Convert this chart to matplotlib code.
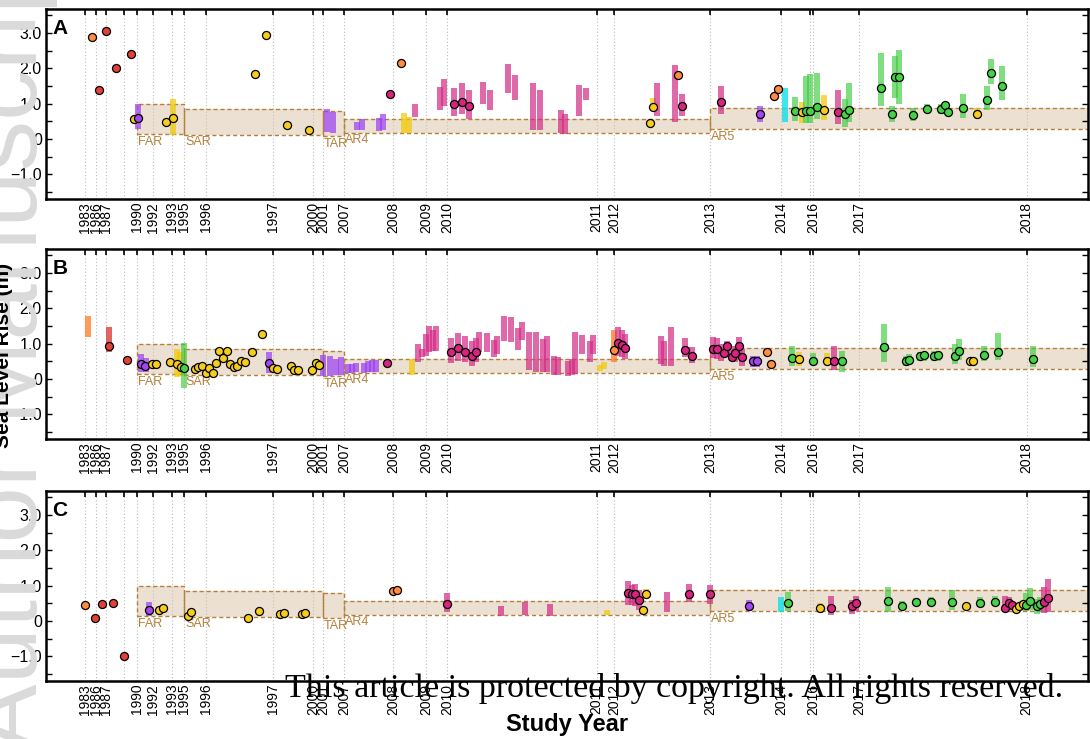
"""
Sea level rise projections by study year, three panels (A, B, C)
"""
import matplotlib
matplotlib.use('Agg')
import matplotlib.pyplot as plt
from matplotlib.patches import Rectangle

plt.rcParams['font.family'] = ['Liberation Sans', 'DejaVu Sans']

# study position along x; a tick marks the first study of each year
year_pos = [85, 95.7, 106, 123.7, 137, 152.7, 172.3, 184.3, 205.7, 273.3, 313.3, 323, 344.3,
            393.3, 426, 447.3, 596.7, 614.3, 710, 781, 809.5, 813, 859.3, 1026.7]
year_lab = ['1983', '1986', '1987', '', '1990', '1992', '1993', '1995', '1996', '1997', '2000',
            '2001', '2007', '2008', '2009', '2010', '2011', '2012', '2013', '2014', '', '2016',
            '2017', '2018']

# IPCC assessment ranges
ipcc_name = ['FAR', 'SAR', 'TAR', 'AR4', 'AR5']
ipcc_x0 = [137, 184.3, 323, 344.3, 710]
ipcc_x1 = [184.3, 323, 344.3, 710, 1088]
ipcc_lo = [0.13, 0.11, 0.07, 0.17, 0.27]
ipcc_hi = [1.0, 0.86, 0.79, 0.57, 0.87]

# ranges: (position, low, high, group)
a_bars = [
    (138, 0.28, 0.99, 'p'), (173.3, 0.12, 1.12, 'y'), (326.7, 0.19, 0.84, 'p'),
    (333.3, 0.16, 0.75, 'p'), (357.3, 0.24, 0.47, 'p'), (362, 0.25, 0.57, 'p'),
    (379, 0.23, 0.59, 'p'), (383.3, 0.25, 0.71, 'p'), (404.3, 0.18, 0.73, 'y'),
    (409, 0.18, 0.63, 'y'), (415, 0.61, 0.98, 'm'), (440, 0.82, 1.48, 'm'),
    (444, 0.93, 1.69, 'm'), (454.3, 0.65, 1.44, 'm'), (461.7, 0.70, 1.58, 'm'),
    (468.7, 0.57, 1.39, 'm'), (482.7, 0.98, 1.61, 'm'), (490, 0.81, 1.38, 'm'),
    (507.7, 1.30, 2.12, 'm'), (515, 1.10, 1.81, 'm'), (532.7, 0.25, 1.59, 'm'),
    (540, 0.24, 1.39, 'm'), (561, 0.16, 0.82, 'm'), (564.7, 0.14, 0.70, 'm'),
    (579, 0.65, 1.53, 'm'), (586, 1.10, 1.44, 'm'), (653.3, 0.79, 1.15, 'y'),
    (656.7, 0.65, 1.58, 'm'), (675, 0.47, 2.10, 'm'), (681.7, 0.64, 1.27, 'm'),
    (720.7, 0.70, 1.50, 'm'), (760, 0.49, 0.93, 'p'), (785, 0.47, 1.43, 'c'),
    (795.3, 0.52, 1.20, 'g'), (802.3, 0.44, 1.04, 'y'), (805.7, 0.45, 1.79, 'g'),
    (810, 0.45, 1.83, 'g'), (816.7, 0.56, 1.87, 'g'), (824, 0.54, 1.25, 'y'),
    (838, 0.42, 1.39, 'm'), (845.3, 0.35, 1.13, 'g'), (849, 0.49, 1.59, 'g'),
    (880.7, 0.93, 2.43, 'g'), (891.7, 0.49, 0.93, 'g'), (894.7, 1.15, 2.35, 'g'),
    (899, 0.99, 2.52, 'g'), (912.7, 0.50, 0.88, 'g'), (927.3, 0.75, 0.98, 'g'),
    (941, 0.72, 0.98, 'g'), (962.7, 0.59, 1.27, 'g'), (976.7, 0.57, 0.87, 'y'),
    (987.3, 0.82, 1.51, 'g'), (991, 1.55, 2.26, 'g'), (1001.7, 1.09, 2.06, 'g'),
]
# central estimates: (position, value, group)
a_pts = [
    (91.7, 2.88, 'o'), (98.7, 1.39, 'r'), (106, 3.06, 'r'), (116.3, 2.0, 'r'), (131, 2.40, 'r'),
    (134, 0.57, 'y'), (138, 0.59, 'p'), (166, 0.48, 'y'), (173.3, 0.58, 'y'),
    (255.3, 1.83, 'y'), (265.7, 2.93, 'y'), (287.3, 0.39, 'y'), (308.7, 0.26, 'y'),
    (390, 1.27, 'm'), (400.7, 2.16, 'o'),
    (454.3, 1.0, 'm'), (461.7, 1.05, 'm'), (468.7, 0.92, 'm'),
    (649.7, 0.44, 'y'), (653.3, 0.91, 'y'), (678.3, 1.82, 'o'), (681.7, 0.94, 'm'),
    (720.7, 1.06, 'm'), (760, 0.70, 'p'), (774, 1.21, 'o'), (777.7, 1.41, 'o'),
    (795.3, 0.79, 'g'), (802.3, 0.75, 'y'), (805.7, 0.80, 'g'), (810, 0.80, 'g'),
    (816.7, 0.91, 'g'), (824, 0.81, 'y'), (838, 0.76, 'm'), (845.3, 0.71, 'g'), (849, 0.81, 'g'),
    (880.7, 1.45, 'g'), (891.7, 0.70, 'g'), (894.7, 1.76, 'g'), (899, 1.76, 'g'),
    (912.7, 0.69, 'g'), (927.3, 0.85, 'g'), (941, 0.86, 'g'), (945, 0.95, 'g'),
    (948.3, 0.76, 'g'), (962.7, 0.89, 'g'), (976.7, 0.70, 'y'),
    (987.3, 1.11, 'g'), (991, 1.87, 'g'), (1001.7, 1.50, 'g'),
]

b_bars = [
    (88, 1.20, 1.79, 'o'), (109.3, 0.77, 1.46, 'r'), (141.3, 0.21, 0.71, 'p'),
    (145.7, 0.19, 0.59, 'p'), (177, 0.05, 0.85, 'y'), (180, 0.07, 0.75, 'y'),
    (184.3, -0.26, 1.02, 'g'), (269.3, 0.17, 0.77, 'p'), (322.7, 0.09, 0.69, 'p'),
    (330, 0.09, 0.66, 'p'), (336, 0.10, 0.57, 'p'), (341, 0.12, 0.63, 'p'),
    (348, 0.18, 0.42, 'p'), (352, 0.18, 0.42, 'p'), (356, 0.19, 0.44, 'p'),
    (364, 0.17, 0.45, 'p'), (368, 0.19, 0.50, 'p'), (372, 0.19, 0.54, 'p'),
    (376, 0.19, 0.55, 'p'), (411.7, 0.11, 0.57, 'y'), (418.3, 0.47, 0.98, 'm'),
    (422, 0.62, 0.85, 'm'), (425.7, 0.66, 1.27, 'm'), (429, 0.76, 1.49, 'm'),
    (432.7, 0.80, 1.40, 'm'), (436.3, 0.78, 1.49, 'm'), (450.7, 0.45, 1.16, 'm'),
    (457.7, 0.50, 1.29, 'm'), (465, 0.47, 1.21, 'm'), (472, 0.36, 1.08, 'm'),
    (475.7, 0.47, 1.16, 'm'), (479.3, 0.77, 1.32, 'm'), (486.7, 0.77, 1.30, 'm'),
    (493.7, 0.61, 1.09, 'm'), (497.3, 0.71, 1.21, 'm'), (504, 1.07, 1.78, 'm'),
    (511, 1.04, 1.75, 'm'), (518.3, 0.83, 1.44, 'm'), (522, 1.09, 1.61, 'm'),
    (529, 0.24, 1.34, 'm'), (536.3, 0.21, 1.32, 'm'), (543.3, 0.21, 1.13, 'm'),
    (547.3, 0.19, 1.23, 'm'), (554.3, 0.11, 0.64, 'm'), (557.7, 0.11, 0.61, 'm'),
    (568.3, 0.09, 0.52, 'm'), (571.7, 0.11, 0.57, 'm'), (575.3, 0.14, 1.34, 'm'),
    (582.3, 0.71, 1.25, 'm'), (589.7, 0.47, 1.07, 'm'), (593.3, 0.71, 1.25, 'm'),
    (600, 0.23, 0.40, 'y'), (603.7, 0.28, 0.47, 'y'), (614.3, 0.49, 1.39, 'o'),
    (618, 0.66, 1.46, 'm'), (621.7, 0.61, 1.40, 'm'), (625.3, 0.57, 1.27, 'm'),
    (660.7, 0.42, 1.21, 'm'), (664, 0.38, 1.07, 'm'), (671, 0.36, 1.46, 'm'),
    (685, 0.63, 1.15, 'm'), (692.3, 0.45, 0.90, 'm'), (713.3, 0.59, 1.18, 'm'),
    (717.3, 0.57, 1.15, 'm'), (721, 0.50, 0.98, 'm'), (727.3, 0.71, 1.07, 'm'),
    (731.7, 0.51, 0.85, 'm'), (735, 0.47, 0.94, 'm'), (738.7, 0.64, 1.18, 'm'),
    (742, 0.38, 0.85, 'm'), (753.3, 0.35, 0.66, 'p'), (756.7, 0.35, 0.66, 'p'),
    (791.7, 0.36, 0.92, 'g'), (799, 0.38, 0.76, 'y'), (813.3, 0.42, 0.73, 'g'),
    (827.3, 0.38, 0.74, 'y'), (834.3, 0.24, 0.93, 'm'), (842, 0.21, 0.80, 'g'),
    (884.3, 0.49, 1.56, 'g'), (905.7, 0.36, 0.66, 'g'), (909.3, 0.41, 0.71, 'g'),
    (920, 0.50, 0.75, 'g'), (923.7, 0.50, 0.75, 'g'), (934, 0.50, 0.78, 'g'),
    (937.7, 0.50, 0.78, 'g'), (955.3, 0.42, 0.98, 'g'), (959, 0.55, 1.13, 'g'),
    (984, 0.52, 0.92, 'g'), (998.3, 0.55, 1.29, 'g'), (1033.3, 0.35, 0.92, 'g'),
]
b_pts = [
    (109.3, 0.94, 'r'), (126.7, 0.55, 'r'), (141.3, 0.42, 'p'), (145, 0.36, 'p'),
    (151.7, 0.42, 'y'), (155.7, 0.42, 'y'), (170, 0.47, 'y'), (177, 0.42, 'y'),
    (180.7, 0.34, 'y'), (184.3, 0.30, 'g'), (195, 0.28, 'y'), (198.3, 0.34, 'y'),
    (202, 0.36, 'y'), (205.7, 0.17, 'y'), (209, 0.32, 'y'), (212.7, 0.17, 'y'),
    (216, 0.44, 'y'), (219.3, 0.78, 'y'), (223.3, 0.59, 'y'), (226.7, 0.78, 'y'),
    (230, 0.42, 'y'), (233.7, 0.33, 'y'), (237.3, 0.38, 'y'), (240.7, 0.51, 'y'),
    (244.7, 0.49, 'y'), (251.7, 0.76, 'y'), (262.3, 1.27, 'y'), (269.3, 0.44, 'p'),
    (273.3, 0.31, 'y'), (276.7, 0.29, 'y'), (290.7, 0.36, 'y'), (294, 0.24, 'y'),
    (298, 0.24, 'y'), (312.3, 0.25, 'y'), (316, 0.44, 'y'), (319.3, 0.40, 'y'),
    (386.7, 0.44, 'm'), (450.7, 0.77, 'm'), (457.7, 0.87, 'm'), (465, 0.77, 'm'),
    (472, 0.64, 'm'), (475.7, 0.77, 'm'), (614.3, 0.82, 'o'), (618, 1.02, 'm'),
    (621.7, 0.96, 'm'), (625.3, 0.89, 'm'), (685, 0.83, 'm'), (692.3, 0.66, 'm'),
    (713.3, 0.85, 'm'), (717.3, 0.85, 'm'), (724, 0.74, 'm'), (727.3, 0.94, 'm'),
    (731.7, 0.63, 'm'), (735, 0.74, 'm'), (738.7, 0.94, 'm'), (742, 0.61, 'm'),
    (753.3, 0.51, 'p'), (756.7, 0.52, 'p'), (767.3, 0.76, 'o'), (770.7, 0.42, 'o'),
    (791.7, 0.59, 'g'), (799, 0.57, 'y'), (813.3, 0.52, 'g'), (827.3, 0.50, 'y'),
    (834.3, 0.50, 'm'), (842, 0.51, 'g'), (884.3, 0.90, 'g'), (905.7, 0.50, 'g'),
    (909.3, 0.55, 'g'), (920, 0.64, 'g'), (923.7, 0.68, 'g'), (934, 0.64, 'g'),
    (937.7, 0.69, 'g'), (955.3, 0.66, 'g'), (959, 0.79, 'g'), (970, 0.51, 'y'),
    (973.3, 0.51, 'y'), (984, 0.68, 'g'), (998.3, 0.76, 'g'), (1033.3, 0.57, 'g'),
]

c_bars = [
    (148.7, 0.15, 0.53, 'p'), (447.3, 0.24, 0.79, 'm'), (500.7, 0.13, 0.43, 'm'),
    (525.3, 0.18, 0.54, 'm'), (550, 0.13, 0.49, 'm'), (607, 0.16, 0.32, 'y'),
    (628, 0.46, 1.12, 'm'), (631.7, 0.46, 1.03, 'm'), (635.3, 0.43, 1.06, 'm'),
    (639, 0.32, 0.89, 'm'), (646.3, 0.62, 0.91, 'y'), (667.3, 0.24, 0.82, 'm'),
    (689, 0.54, 1.06, 'm'), (710, 0.49, 1.01, 'm'), (749.3, 0.27, 0.58, 'p'),
    (781, 0.24, 0.67, 'c'), (788.3, 0.29, 0.81, 'g'), (820, 0.30, 0.51, 'y'),
    (831, 0.16, 0.70, 'm'), (852.3, 0.21, 0.60, 'm'), (856, 0.27, 0.72, 'm'),
    (888, 0.25, 0.97, 'g'), (902, 0.32, 0.56, 'g'), (916.3, 0.41, 0.65, 'g'),
    (930.7, 0.41, 0.68, 'g'), (951.7, 0.32, 0.87, 'g'), (980.3, 0.39, 0.67, 'g'),
    (994.7, 0.41, 0.72, 'g'), (1005, 0.28, 0.70, 'm'), (1008.7, 0.31, 0.67, 'm'),
    (1026, 0.27, 0.79, 'g'), (1030, 0.32, 0.93, 'g'), (1036.7, 0.21, 0.63, 'g'),
    (1040.3, 0.24, 0.67, 'g'), (1044, 0.23, 0.96, 'm'), (1047.7, 0.24, 1.20, 'm'),
]
c_pts = [
    (84.7, 0.46, 'o'), (95.3, 0.08, 'r'), (102.3, 0.49, 'r'), (113, 0.52, 'r'),
    (123.7, -1.0, 'r'), (148.7, 0.30, 'p'), (159, 0.30, 'y'), (163, 0.36, 'y'),
    (187.7, 0.13, 'y'), (191.3, 0.24, 'y'), (248, 0.07, 'y'), (258.7, 0.27, 'y'),
    (280.3, 0.21, 'y'), (283.7, 0.23, 'y'), (301.7, 0.21, 'y'), (305, 0.23, 'y'),
    (393.3, 0.84, 'o'), (397.3, 0.89, 'o'), (447.3, 0.49, 'm'), (628, 0.79, 'm'),
    (631.7, 0.75, 'm'), (635.3, 0.77, 'm'), (639, 0.58, 'm'), (642.7, 0.32, 'y'),
    (646.3, 0.75, 'y'), (689, 0.77, 'm'), (710, 0.75, 'm'), (749.3, 0.41, 'p'),
    (788.3, 0.50, 'g'), (820, 0.37, 'y'), (831, 0.38, 'm'), (852.3, 0.41, 'm'),
    (856, 0.51, 'm'), (888, 0.57, 'g'), (902, 0.41, 'g'), (916.3, 0.55, 'g'),
    (930.7, 0.55, 'g'), (951.7, 0.53, 'g'), (966, 0.43, 'y'), (980.3, 0.51, 'g'),
    (994.7, 0.55, 'g'), (1005, 0.37, 'm'), (1008.7, 0.51, 'm'), (1012, 0.44, 'm'),
    (1015.7, 0.35, 'y'), (1019, 0.41, 'y'), (1022.7, 0.49, 'y'), (1026, 0.46, 'g'),
    (1030, 0.56, 'g'), (1036.7, 0.41, 'g'), (1040.3, 0.48, 'g'), (1044, 0.55, 'm'),
    (1047.7, 0.65, 'm'),
]

# colours per group
pt_col = {'o': '#ff8c42', 'r': '#e2413b', 'y': '#f6cd1c', 'p': '#a447ee',
          'm': '#d8237f', 'g': '#45d245', 'c': '#22e3ea'}
bar_col = {'o': ('#ff7a22', 0.75), 'r': ('#d83030', 0.75), 'y': ('#f2c800', 0.7),
           'p': ('#9a3cf5', 0.7), 'm': ('#d42a86', 0.7), 'g': ('#3ccc3c', 0.65),
           'c': ('#10e0ea', 0.8)}

W, H = 1090, 739
fig = plt.figure(figsize=(W / 100, H / 100), dpi=100)

# watermark + margin text
fig.text(58 / W, 1 - 340 / H, 'Author Manuscript', rotation=90, fontsize=73,
         color='#dadada', ha='right', va='center', zorder=0)
fig.text(4 / W, 1 - 355 / H, 'Sea Level Rise (m)', rotation=90, fontsize=15,
         fontweight='bold', ha='center', va='center')

panels = [('A', a_bars, a_pts, 9), ('B', b_bars, b_pts, 249), ('C', c_bars, c_pts, 491)]
for letter, bars, pts, top_px in panels:
    ax = fig.add_axes([46 / W, 1 - (top_px + 190) / H, 1042 / W, 190 / H])
    ax.set_xlim(46, 1088)
    ax.set_ylim(-1.7, 3.68)

    for xv in year_pos:
        ax.axvline(xv, color='#bdbdbd', lw=0.8, ls=(0, (1, 2)), zorder=0.5)

    for i in range(len(ipcc_name)):
        ax.add_patch(Rectangle((ipcc_x0[i], ipcc_lo[i]), ipcc_x1[i] - ipcc_x0[i],
                               ipcc_hi[i] - ipcc_lo[i], facecolor='#d8c3a5', alpha=0.5,
                               edgecolor='none', zorder=1))
        ax.add_patch(Rectangle((ipcc_x0[i], ipcc_lo[i]), ipcc_x1[i] - ipcc_x0[i],
                               ipcc_hi[i] - ipcc_lo[i], facecolor='none',
                               edgecolor='#b5803a', lw=1, ls=(0, (3, 2)), zorder=1.1))
        ax.text(ipcc_x0[i] + 1, ipcc_lo[i] - 0.04, ipcc_name[i], color='#b5803a',
                fontsize=9, ha='left', va='top', zorder=1.2)

    for xb, lo, hi, g in bars:
        c, a = bar_col[g]
        ax.bar(xb, hi - lo, bottom=lo, width=6, color=c, alpha=a, lw=0, zorder=2)
    for xp, yp, g in pts:
        ax.plot(xp, yp, 'o', ms=5.8, mfc=pt_col[g], mec='black', mew=0.9, zorder=3)

    ax.set_xticks(year_pos)
    ax.set_xticklabels(year_lab, rotation=90, fontsize=10)
    ax.tick_params(axis='x', top=True, bottom=False, direction='in', length=4,
                   width=1.2, pad=2, labelbottom=True)
    ax.set_yticks([-1, 0, 1, 2, 3])
    ax.set_yticklabels(['\u22121.0', '0', '1.0', '2.0', '3.0'], fontsize=11.5)
    ax.set_yticks([-1.5, -0.5, 0.5, 1.5, 2.5, 3.5], minor=True)
    ax.tick_params(axis='y', which='both', left=True, right=True, direction='in',
                   length=4, width=1, pad=3)
    for s in ax.spines.values():
        s.set_linewidth(1.8)
    ax.text(0.006, 0.945, letter, transform=ax.transAxes, fontsize=15,
            fontweight='bold', ha='left', va='top')

fig.text(567 / W, 1 - 724 / H, 'Study Year', fontsize=17, fontweight='bold',
         ha='center', va='center')
fig.text(1063 / W, 1 - 697 / H, 'This article is protected by copyright. All rights reserved.',
         family=['Liberation Serif', 'DejaVu Serif'], fontsize=24.5, ha='right',
         va='baseline', zorder=10)

fig.savefig('out.png', dpi=100)
